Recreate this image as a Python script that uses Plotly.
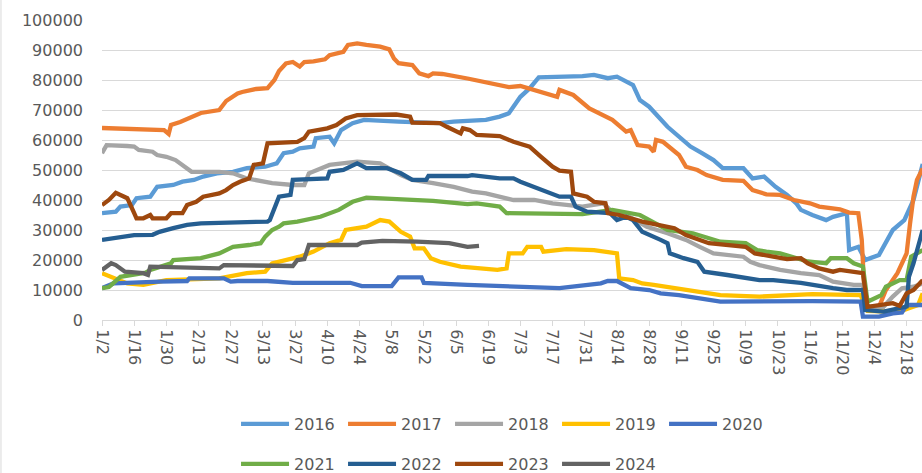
import plotly.graph_objects as go

# x = day of year (non-leap calendar); ticks every 14 days starting 1/2
tick_days = list(range(2, 353, 14))
tick_labels = ["1/2", "1/16", "1/30", "2/13", "2/27", "3/13", "3/27", "4/10", "4/24",
               "5/8", "5/22", "6/5", "6/19", "7/3", "7/17", "7/31", "8/14", "8/28",
               "9/11", "9/25", "10/9", "10/23", "11/6", "11/20", "12/4", "12/18"]

days_2016 = [2, 8, 10, 15, 17, 23, 26, 33, 37, 42, 46, 52, 59, 65, 73, 78, 81, 85, 88, 94,
             95, 101, 103, 106, 111, 116, 131, 149, 155, 169, 175, 179, 184, 188, 192, 204, 211, 216, 222, 226,
             229, 233, 236, 240, 248, 252, 255, 258, 263, 268, 272, 281, 285, 290, 295, 300, 304, 306, 311, 317,
             320, 323, 326, 327, 331, 334, 340, 346, 351, 355, 357, 359]
vals_2016 = [35600, 36100, 37800, 38300, 40600, 41100, 44400, 45000, 46100, 46700, 47800, 48900, 49400, 50600, 51100, 52200, 55600, 56100, 57200, 57800,
             60600, 61100, 58900, 63300, 65600, 66700, 66100, 65600, 66100, 66700, 67800, 68900, 74400, 77200, 80900, 81100, 81300, 81700, 80600, 81100,
             80000, 78300, 73300, 71100, 64400, 61700, 60000, 57800, 55600, 53300, 50600, 50600, 47200, 47800, 44400, 41700, 38900, 36700, 35000, 33300,
             34400, 35000, 35600, 23300, 24400, 20000, 21700, 30000, 33300, 40000, 46700, 52000]

days_2017 = [2, 26, 29, 31, 32, 36, 40, 45, 53, 56, 61, 63, 69, 74, 77, 79, 82, 85, 88, 90,
             94, 99, 101, 107, 109, 113, 117, 123, 127, 129, 131, 137, 140, 144, 146, 150, 161, 169, 179, 184,
             190, 198, 200, 201, 207, 214, 219, 224, 230, 232, 235, 240, 242, 243, 246, 250, 253, 256, 261, 265,
             272, 281, 285, 291, 297, 303, 310, 314, 323, 327, 331, 332.5, 334, 340, 343, 348, 352, 353.5, 355, 356.5, 359]
vals_2017 = [64000, 63500, 63300, 62000, 65000, 66000, 67500, 69000, 70000, 73000, 75500, 76000, 77000, 77300, 80000, 83000, 85500, 86000, 84500, 86000,
             86200, 86900, 88300, 89400, 91700, 92200, 91700, 91100, 90200, 87200, 85600, 85000, 82200, 81300, 82200, 82000, 80500, 79100, 77600, 78000,
             76700, 75000, 74400, 76700, 75000, 70500, 68700, 66700, 62800, 63300, 58300, 57800, 56100, 60000, 59400, 56700, 55000, 51100, 50000, 48300,
             46700, 46400, 43300, 41900, 41700, 40000, 38900, 37800, 36900, 35800, 35600, 26700, 4400, 4400, 10000, 15600, 22200, 32200, 41100, 46700, 50500]

days_2018 = [2, 4, 13, 16, 18, 24, 26, 30, 34, 37, 41, 53, 59, 65, 74, 76, 85, 90, 92, 101,
             113, 123, 132, 137, 146, 155, 163, 169, 181, 190, 198, 211, 220, 223, 230, 239, 248, 256, 262, 268,
             281, 284, 288, 297, 306, 314, 320, 329, 333, 335, 342, 346, 350, 355, 359]
vals_2018 = [55600, 58300, 58000, 57800, 56700, 56100, 55000, 54400, 53300, 51700, 49400, 49400, 48900, 47200, 46100, 45600, 45000, 45000, 48900, 51700,
             52800, 52200, 48300, 46700, 45600, 44400, 42800, 42200, 40000, 40000, 38900, 37800, 38900, 36700, 35000, 31100, 28900, 26700, 24400, 22200,
             21100, 19400, 18300, 16700, 15600, 15000, 12800, 11700, 11700, 4400, 4400, 7800, 10600, 11100, 12200]

days_2019 = [2, 7, 13, 20, 30, 53, 65, 73, 76, 88, 94, 101, 106, 108, 117, 123, 127, 132, 136, 138,
             142, 145, 149, 158, 174, 178, 179, 185, 187, 193, 194, 204, 216, 226, 227, 233, 237, 242, 251, 262,
             271, 288, 300, 311, 332, 335, 345, 349, 353, 357, 359]
vals_2019 = [15600, 13900, 12200, 11700, 13300, 13900, 15600, 16100, 18900, 21100, 22800, 25600, 26700, 30000, 31100, 33300, 32800, 29400, 27800, 23900,
             23900, 20600, 19400, 17800, 16700, 17200, 22200, 22200, 24400, 24400, 22800, 23600, 23300, 22200, 13900, 13300, 12200, 11700, 10600, 9400,
             8300, 7800, 8300, 8600, 8300, 3000, 2800, 2800, 3900, 5000, 8900]

days_2020 = [2, 7, 27, 39, 40, 55, 58, 61, 74, 85, 110, 115, 128, 131, 141, 142, 161, 175, 190, 201,
             219, 222, 226, 232, 240, 245, 253, 262, 271, 311, 332, 333, 340, 346, 350, 352, 359]
vals_2020 = [10600, 12200, 12800, 13000, 13900, 13900, 12800, 13000, 13000, 12400, 12400, 11300, 11300, 14200, 14200, 12400, 11700, 11300, 10600, 10600,
             12200, 13000, 13000, 10600, 10000, 8900, 8300, 7200, 6100, 6300, 6100, 1100, 1100, 2200, 2500, 5000, 5000]

days_2021 = [2, 5, 10, 16, 21, 23, 32, 33, 45, 53, 59, 66, 71, 73, 76, 79, 81, 87, 90, 97,
             105, 111, 117, 132, 146, 161, 165, 175, 178, 211, 219, 224, 236, 248, 259, 271, 282, 287, 291, 297,
             309, 317, 319, 326, 329, 333, 335, 341, 343, 349, 352, 354, 359]
vals_2021 = [10600, 11000, 14400, 15000, 15800, 16700, 18900, 20000, 20600, 22200, 24400, 25000, 25600, 27800, 30000, 31100, 32200, 32800, 33300, 34400,
             36700, 39400, 40800, 40200, 39700, 38600, 38900, 37800, 35600, 35300, 36000, 36700, 35000, 30000, 28900, 26100, 25600, 23300, 22800, 22200,
             19500, 18900, 20600, 20600, 18900, 17800, 6100, 8300, 11100, 13300, 13300, 21100, 23300]

days_2022 = [2, 7, 13, 16, 24, 27, 33, 39, 45, 59, 74, 75, 79, 84, 85, 100, 101, 107, 111, 113,
             117, 126, 132, 137, 143, 144, 161, 163, 175, 181, 184, 190, 198, 201, 206, 208, 213, 223, 226, 230,
             233, 237, 245, 248, 249, 255, 261, 264, 274, 282, 288, 294, 306, 320, 326, 333, 334, 342, 350, 352,
             353, 355, 359]
vals_2022 = [26700, 27200, 27800, 28300, 28400, 29400, 30600, 31700, 32200, 32400, 32800, 33300, 41100, 41700, 46700, 47200, 49400, 50000, 51700, 52200,
             50600, 50600, 48900, 46700, 46700, 48000, 48000, 48300, 47200, 47200, 46100, 44400, 42200, 41100, 41100, 37800, 36100, 35600, 33300, 34400,
             33300, 29400, 26700, 25600, 22200, 20600, 19400, 16100, 15000, 13900, 13300, 13300, 12400, 10600, 10000, 10000, 3300, 2800, 3900, 4500,
             14400, 18900, 30000]

days_2023 = [2, 5, 8, 11, 13, 16, 17, 20, 23, 24, 30, 32, 37, 39, 43, 46, 53, 56, 59, 62,
             66, 68, 72, 74, 78, 87, 90, 92, 100, 104, 108, 113, 130, 136, 137, 149, 152, 156, 158, 159,
             162, 165, 175, 181, 188, 193, 198, 201, 206, 207, 213, 216, 221, 222, 227, 237, 245, 251, 256, 262,
             266, 282, 286, 294, 300, 306, 309, 314, 320, 323, 333, 335, 346, 349, 352, 355, 359]
vals_2023 = [38300, 40000, 42400, 41100, 40600, 35600, 33900, 33900, 35000, 33900, 33900, 35600, 35600, 38300, 39400, 41100, 42200, 43300, 45000, 46100,
             47200, 51700, 52200, 58900, 59100, 59400, 60600, 62800, 63900, 65000, 67200, 68300, 68500, 67800, 65800, 65600, 64400, 62800, 62200, 63900,
             63300, 61700, 61300, 59400, 57800, 54400, 51100, 49800, 49400, 42200, 41100, 39400, 38900, 35600, 35000, 32800, 31700, 30600, 28300, 26700,
             25600, 24400, 22200, 21100, 20300, 20600, 18900, 17200, 16100, 16700, 15600, 4400, 5600, 4700, 8900, 10000, 13300]

days_2024 = [2, 6, 8, 12, 20, 22, 23, 44, 53, 55, 85, 87, 90, 92, 113, 115, 124, 139, 153, 161, 166]
vals_2024 = [16700, 18900, 18300, 16100, 15600, 15000, 17800, 17200, 17200, 18300, 18000, 20000, 20300, 25000, 25000, 25800, 26400, 26100, 25600, 24400, 24700]

series = [
    ("2016", days_2016, vals_2016, "#5B9BD5", "legend"),
    ("2017", days_2017, vals_2017, "#ED7D31", "legend"),
    ("2018", days_2018, vals_2018, "#A5A5A5", "legend"),
    ("2019", days_2019, vals_2019, "#FFC000", "legend"),
    ("2020", days_2020, vals_2020, "#4472C4", "legend"),
    ("2021", days_2021, vals_2021, "#70AD47", "legend2"),
    ("2022", days_2022, vals_2022, "#255E91", "legend2"),
    ("2023", days_2023, vals_2023, "#9E480E", "legend2"),
    ("2024", days_2024, vals_2024, "#636363", "legend2"),
]

fig = go.Figure()
for name, d, v, color, leg in series:
    fig.add_trace(go.Scatter(x=d, y=v, mode="lines", name=name, legend=leg,
                             line=dict(color=color, width=4.3)))

font = dict(family="DejaVu Sans", size=16, color="#595959")
legend_common = dict(orientation="h", xref="container", yref="container",
                     x=0.256, xanchor="left", yanchor="middle",
                     font=font, bgcolor="rgba(0,0,0,0)", itemwidth=48,
                     entrywidth=44, entrywidthmode="pixels", tracegroupgap=0)

fig.update_layout(
    width=922, height=473,
    margin=dict(l=102, r=0, t=20, b=153),
    paper_bgcolor="white", plot_bgcolor="white",
    font=font,
    showlegend=True,
    legend=dict(y=1 - 424 / 473, **legend_common),
    legend2=dict(y=1 - 464 / 473, **legend_common),
    xaxis=dict(range=[2, 358.7], tickmode="array", tickvals=tick_days, ticktext=tick_labels,
               tickangle=90, showgrid=False, zeroline=False, showline=True, automargin=False,
               linecolor="#D9D9D9", linewidth=1, ticks="outside", ticklen=5,
               tickcolor="#D9D9D9", tickfont=font),
    yaxis=dict(range=[0, 100000], dtick=10000, tickformat="d", showgrid=True, automargin=False,
               gridcolor="#D9D9D9", gridwidth=1, zeroline=False, showline=False,
               ticks="", ticklabelstandoff=18, tickfont=font),
    shapes=[dict(type="line", xref="paper", yref="paper", x0=-0.1232, x1=-0.1232,
                 y0=-0.51, y1=1.0667, line=dict(color="#D9D9D9", width=1))],
)

fig.write_html("out.html", config={"displayModeBar": False},
               post_script="document.body.style.margin='0';document.body.style.overflow='hidden';")
